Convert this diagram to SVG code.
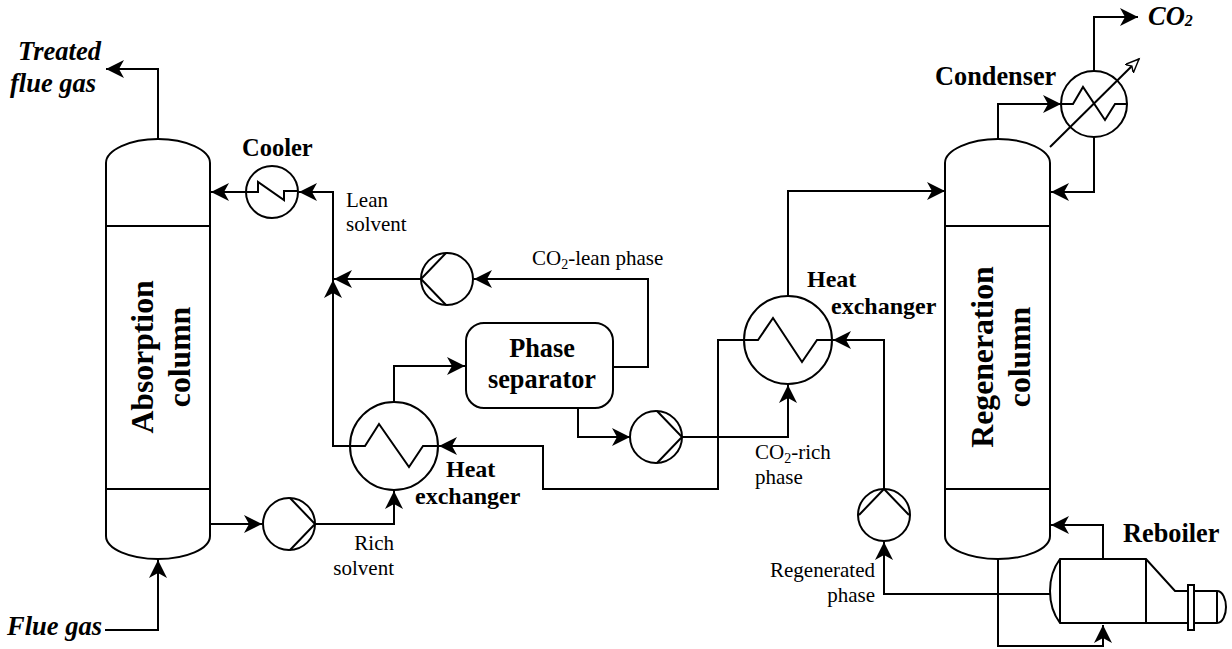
<svg xmlns="http://www.w3.org/2000/svg" width="1232" height="649" viewBox="0 0 1232 649">
<style>
.l{fill:none;stroke:#000;stroke-width:2}
.a{marker-end:url(#ah)}
.n{fill:#fff;stroke:#000;stroke-width:2}
text{font-family:"Liberation Serif","Times New Roman",serif;fill:#000}
.b{font-weight:bold;font-size:24px}
.bl{font-weight:bold;font-size:26.3px}
.i{font-weight:bold;font-style:italic;font-size:26.5px}
.r{font-size:21px}
.v{font-weight:bold;font-size:31.7px;text-anchor:middle}
</style>
<defs>
<marker id="ah" markerUnits="userSpaceOnUse" markerWidth="20" markerHeight="20" refX="18" refY="9" orient="auto"><path d="M18 9L0 0L5 9L0 18Z" fill="#000"/></marker>
<marker id="oh" markerUnits="userSpaceOnUse" markerWidth="18" markerHeight="18" refX="14" refY="6" orient="auto"><path d="M14 6L0 0L4 6L0 12Z" fill="#fff" stroke="#000" stroke-width="1.4"/></marker>
</defs>
<g id="connectors">
<path class="l a" d="M158 139V69H106"/>
<path class="l a" d="M105 630H158V560"/>
<path class="l a" d="M211 524H262"/>
<path class="l a" d="M315 524H394V491"/>
<path class="l a" d="M350 446H333V280"/>
<path class="l a" d="M333 280V192H299"/>
<path class="l a" d="M246 192H211"/>
<path class="l a" d="M421 279H334"/>
<path class="l a" d="M613 367H648V279H474"/>
<path class="l a" d="M394 402V366H465"/>
<path class="l a" d="M578 408V437H630"/>
<path class="l a" d="M682 437H788V385"/>
<path class="l a" d="M788 296V191H945"/>
<path class="l a" d="M744 340H718V489H543V446H439"/>
<path class="l a" d="M884 489V340H833"/>
<path class="l a" d="M998 139V104H1061"/>
<path class="l a" d="M1094 71V17H1138"/>
<path class="l a" d="M1094 136V192H1051"/>
<path class="l a" d="M1103 559V525H1051"/>
<path class="l a" d="M1050 594H884V542"/>
<path class="l a" d="M998 559V646H1103V625"/>
</g>
<g id="absorption-column">
<path class="n" d="M106 163C106 150 130 139 158 139S210 150 210 163V536C210 549 186 559 158 559S106 549 106 536Z"/>
<path class="l" d="M106 226H210M106 489H210"/>
<text class="v" transform="translate(158 357) rotate(-90)"><tspan x="0" y="-5">Absorption</tspan><tspan x="0" y="32">column</tspan></text>
</g>
<g id="regeneration-column">
<path class="n" d="M945 163C945 150 970 139 998 139S1050 150 1050 163V536C1050 549 1026 559 998 559S945 549 945 536Z"/>
<path class="l" d="M945 226H1050M945 489H1050"/>
<text class="v" transform="translate(998 357) rotate(-90)"><tspan x="0" y="-5">Regeneration</tspan><tspan x="0" y="32">column</tspan></text>
</g>
<g id="cooler">
<circle class="n" cx="272" cy="192" r="26"/>
<path class="l" d="M246 192H258V182L284 200V191H298"/>
<text class="b" x="242" y="156" style="font-size:24.5px">Cooler</text>
</g>
<g id="pump-rich">
<circle class="n" cx="289" cy="524" r="26"/>
<path class="l" d="M290 498L315 524L290 550"/>
</g>
<g id="pump-lean">
<circle class="n" cx="447" cy="279" r="26"/>
<path class="l" d="M446 253L421 279L446 305"/>
</g>
<g id="pump-co2-rich">
<circle class="n" cx="656" cy="437" r="26"/>
<path class="l" d="M657 411L682 437L657 463"/>
</g>
<g id="pump-regenerated">
<circle class="n" cx="884" cy="515" r="26"/>
<path class="l" d="M859 515L884 489L909 515"/>
</g>
<g id="heat-exchanger-1">
<circle class="n" cx="394" cy="446" r="44"/>
<path class="l" d="M350 446H365L379 424L409 467L423 446H438"/>
<text class="b"><tspan x="446" y="477">Heat</tspan><tspan x="415" y="504">exchanger</tspan></text>
</g>
<g id="heat-exchanger-2">
<circle class="n" cx="788" cy="340" r="44"/>
<path class="l" d="M744 340H758L773 318L802 362L817 340H832"/>
<text class="b"><tspan x="807" y="287">Heat</tspan><tspan x="831" y="314">exchanger</tspan></text>
</g>
<g id="phase-separator">
<rect class="n" x="466" y="323" width="147" height="85" rx="18"/>
<text class="bl" text-anchor="middle"><tspan x="542" y="357">Phase</tspan><tspan x="542" y="388">separator</tspan></text>
</g>
<g id="condenser">
<circle class="n" cx="1094" cy="104" r="33"/>
<path class="l" d="M1061 104H1073L1083 87L1105 120L1115 104H1127"/>
<path class="l" d="M1050 147L1139 59" marker-end="url(#oh)"/>
<text class="bl" x="935" y="85">Condenser</text>
</g>
<g id="reboiler">
<path class="n" d="M1060 559H1146L1175 591H1217C1223 591 1226 600 1226 607S1223 623 1217 623H1060C1054 615 1050 603 1050 591S1054 567 1060 559Z"/>
<path class="l" d="M1060 559V623M1146 559V623M1217 591V623"/>
<rect class="n" x="1188" y="585" width="6" height="45"/>
<text class="bl" x="1123" y="542">Reboiler</text>
</g>
<g id="labels">
<text class="i"><tspan x="18" y="60">Treated</tspan><tspan x="10" y="92">flue gas</tspan></text>
<text class="i" x="7" y="635">Flue gas</text>
<text class="i" x="1148" y="25">CO<tspan font-size="16" dy="1">2</tspan></text>
<text class="r"><tspan x="346" y="207">Lean</tspan><tspan x="346" y="231">solvent</tspan></text>
<text class="r" text-anchor="end"><tspan x="394" y="550">Rich</tspan><tspan x="394" y="575">solvent</tspan></text>
<text class="r" x="532" y="265">CO<tspan font-size="14" dy="4">2</tspan><tspan dy="-4">-lean phase</tspan></text>
<text class="r"><tspan x="755" y="459">CO<tspan font-size="14" dy="4">2</tspan><tspan dy="-4">-rich</tspan></tspan><tspan x="755" y="484">phase</tspan></text>
<text class="r" text-anchor="end"><tspan x="875" y="577">Regenerated</tspan><tspan x="875" y="602">phase</tspan></text>
</g>
</svg>
